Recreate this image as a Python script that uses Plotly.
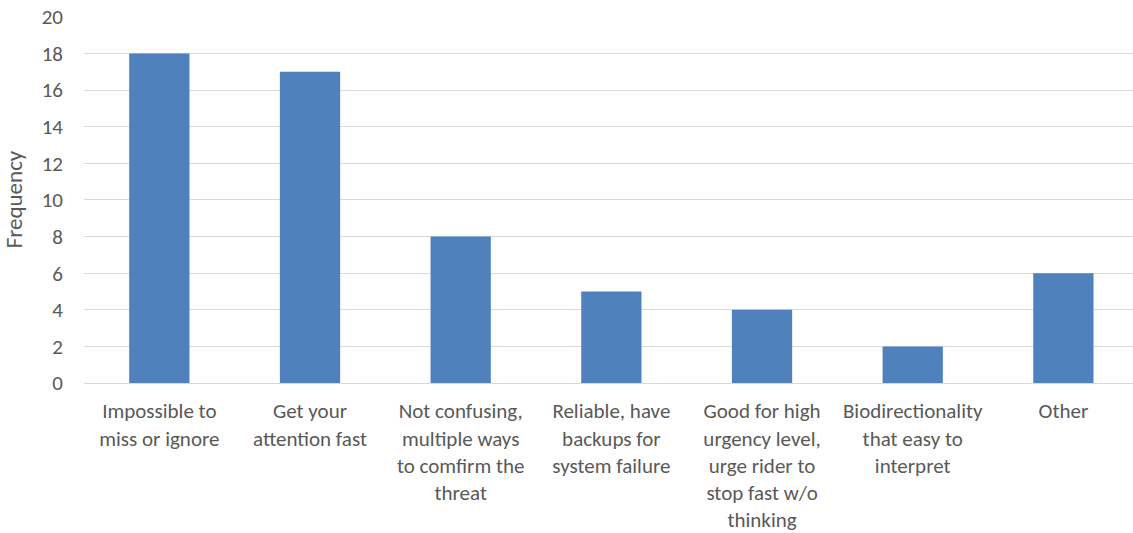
import plotly.graph_objects as go

categories = [
    "Impossible to<br>miss or ignore",
    "Get your<br>attention fast",
    "Not confusing,<br>multiple ways<br>to comfirm the<br>threat",
    "Reliable, have<br>backups for<br>system failure",
    "Good for high<br>urgency level,<br>urge rider to<br>stop fast w/o<br>thinking",
    "Biodirectionality<br>that easy to<br>interpret",
    "Other",
]
frequency = [18, 17, 8, 5, 4, 2, 6]
y_ticks = [0, 2, 4, 6, 8, 10, 12, 14, 16, 18, 20]

FONT = "Carlito, Lato, sans-serif"
GRAY = "#595959"

fig = go.Figure(
    go.Bar(
        x=list(range(len(categories))),
        y=frequency,
        marker=dict(color="#4F81BD", line=dict(width=0)),
        width=0.4,
    )
)

fig.update_layout(
    width=1133,
    height=533,
    margin=dict(l=84, r=0, t=16, b=150),
    plot_bgcolor="white",
    paper_bgcolor="white",
    showlegend=False,
    font=dict(family=FONT, size=21, color=GRAY),
)

fig.update_xaxes(
    tickmode="array",
    tickvals=list(range(len(categories))),
    ticktext=categories,
    range=[-0.5, 6.462],
    showgrid=False,
    showline=True,
    linecolor="#D9D9D9",
    linewidth=1,
    ticks="",
    tickangle=0,
    automargin=False,
    tickfont=dict(family=FONT, size=21, color=GRAY),
    ticklabelstandoff=9,
)

fig.update_yaxes(
    range=[0, 20.05],
    tickmode="array",
    tickvals=y_ticks,
    showgrid=True,
    gridcolor="#D9D9D9",
    gridwidth=1,
    zeroline=False,
    showline=False,
    ticks="",
    automargin=False,
    tickfont=dict(family=FONT, size=21, color=GRAY),
    ticklabelstandoff=20,
    title=dict(text="Frequency", font=dict(family=FONT, size=23, color=GRAY), standoff=17),
)

fig.write_html(
    "out.html",
    config={"displayModeBar": False},
    post_script="document.body.style.margin='0';document.body.style.overflow='hidden';",
)
